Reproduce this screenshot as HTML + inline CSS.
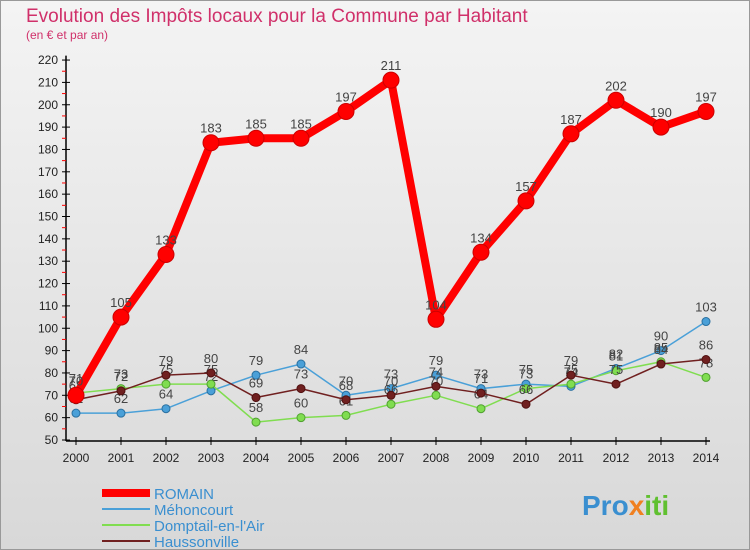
<!DOCTYPE html>
<html><head><meta charset="utf-8"><style>
body{margin:0;background:#fff}
svg{display:block;font-family:"Liberation Sans",sans-serif}
</style></head><body>
<svg width="750" height="550" viewBox="0 0 750 550">
<defs><linearGradient id="bg" x1="0" y1="0" x2="0" y2="1"><stop offset="0" stop-color="#f4f4f4"/><stop offset="1" stop-color="#d8d8d8"/></linearGradient></defs>
<rect x="0.5" y="0.5" width="749" height="549" fill="url(#bg)" stroke="#999"/>
<text x="26" y="22" font-size="19" fill="#d0306a">Evolution des Impôts locaux pour la Commune par Habitant</text>
<text x="26" y="39" font-size="12" fill="#d0306a">(en € et par an)</text>
<g id="axes"></g><g id="series"></g>
<g>
<line x1="102" y1="493" x2="150" y2="493" stroke="#f00" stroke-width="8"/>
<text x="154" y="499" font-size="15" fill="#3a8fd0">ROMAIN</text>
<line x1="102" y1="509" x2="150" y2="509" stroke="#4aa0d8" stroke-width="2"/>
<text x="154" y="515" font-size="15" fill="#3a8fd0">Méhoncourt</text>
<line x1="102" y1="525" x2="150" y2="525" stroke="#80dd50" stroke-width="2"/>
<text x="154" y="531" font-size="15" fill="#3a8fd0">Domptail-en-l'Air</text>
<line x1="102" y1="541" x2="150" y2="541" stroke="#702020" stroke-width="2"/>
<text x="154" y="547" font-size="15" fill="#3a8fd0">Haussonville</text>
</g>
<text x="582" y="515" font-size="28" font-weight="bold" fill="#3a8fd0">Pro<tspan fill="#f08020">x</tspan><tspan fill="#60c030">iti</tspan></text>
</svg>
<script>
const years=[2000,2001,2002,2003,2004,2005,2006,2007,2008,2009,2010,2011,2012,2013,2014];
const romain=[70,105,133,183,185,185,197,211,104,134,157,187,202,190,197];
const mehoncourt=[62,62,64,72,79,84,70,73,79,73,75,74,82,90,103];
const domptail=[71,73,75,75,58,60,61,66,70,64,73,75,81,85,78];
const haussonville=[68,72,79,80,69,73,68,70,74,71,66,79,75,84,86];
const yTicks=[50,60,70,80,90,100,110,120,130,140,150,160,170,180,190,200,210,220];
const NS="http://www.w3.org/2000/svg";
const X=i=>76+i*45, Y=v=>440-(v-50)*2.235;
function mk(t,a,p){const e=document.createElementNS(NS,t);for(const k in a)e.setAttribute(k,a[k]);p.appendChild(e);return e;}
const ax=document.getElementById('axes'), sr=document.getElementById('series');
let l=mk('line',{x1:66,y1:Y(222),x2:66,y2:441,stroke:'#000','stroke-width':1.5},ax);


l=mk('line',{x1:66,y1:441,x2:710,y2:441,stroke:'#000','stroke-width':1.5},ax);


yTicks.forEach(v=>{
 mk('line',{x1:62,y1:Y(v),x2:70,y2:Y(v),stroke:'#000'},ax);
 if(v<220)mk('line',{x1:62,y1:Y(v+5),x2:66,y2:Y(v+5),stroke:'#f00'},ax);
 const t=mk('text',{x:58,y:Y(v)+4,'font-size':12,'text-anchor':'end',fill:'#222'},ax);t.textContent=v;
 
 
});
years.forEach((y,i)=>{
 mk('line',{x1:X(i),y1:437,x2:X(i),y2:445,stroke:'#000'},ax);
 const t=mk('text',{x:X(i),y:462,'font-size':12,'text-anchor':'middle',fill:'#222'},ax);t.textContent=y;
 
 
});
function series(vals,color,w,r,name,dark){
 const g=mk('g',{},sr);
 
 
 mk('polyline',{points:vals.map((v,i)=>X(i)+','+Y(v)).join(' '),fill:'none',stroke:color,'stroke-width':w,'stroke-linejoin':'round'},g);
 vals.forEach((v,i)=>{
  const c=mk('circle',{cx:X(i),cy:Y(v),r:r,fill:color,stroke:dark,'stroke-width':1},g);
  
  
  const t=mk('text',{x:X(i),y:Y(v)-10,'font-size':13,'text-anchor':'middle',fill:'#444'},g);t.textContent=v;
  
  
 });
}
series(mehoncourt,'#4aa0d8',1.5,4,'mehoncourt','#2a70a0');
series(domptail,'#80dd50',1.5,4,'domptail','#50a030');
series(haussonville,'#702020',1.5,4,'haussonville','#501010');
series(romain,'#f00',8,8,'romain','#c00');
</script>
</body></html>
